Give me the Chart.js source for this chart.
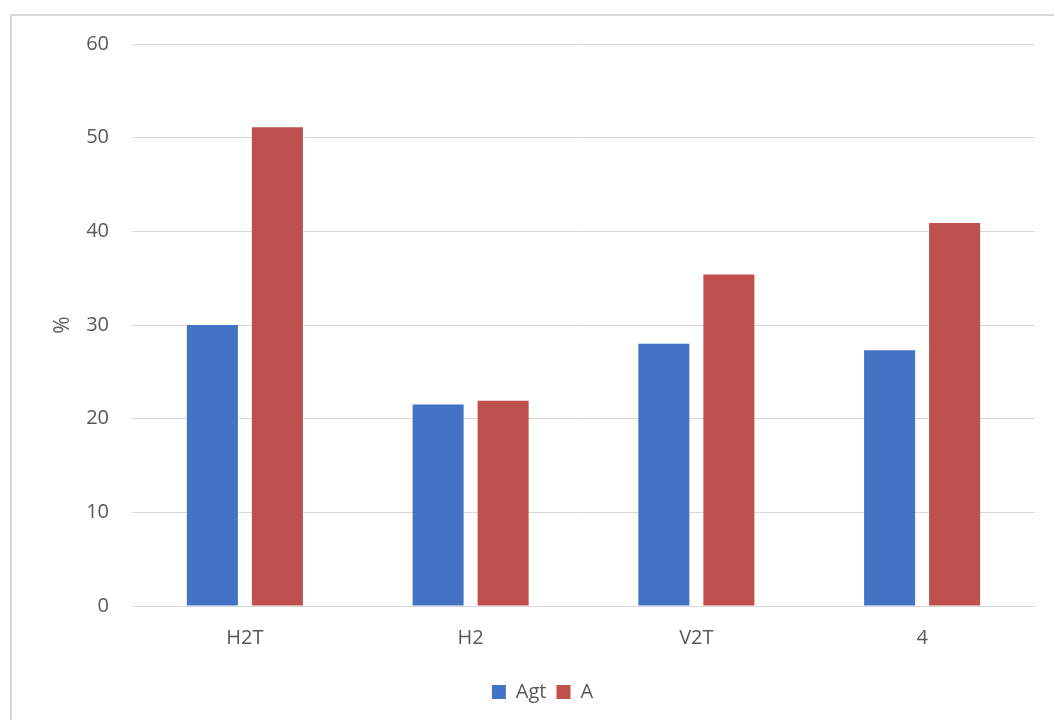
<!DOCTYPE html>
<html>
<head>
<meta charset="utf-8">
<script src="https://cdn.jsdelivr.net/npm/chart.js@4"></script>
<style>
  html, body { margin: 0; padding: 0; background: #fff; overflow: hidden; }
  #wrap { position: relative; width: 1054px; height: 720px; }
</style>
</head>
<body>
<div id="wrap"><canvas id="myChart" width="1054" height="720"></canvas></div>
<script>
const categories = ['H2T', 'H2', 'V2T', '4'];
const agtValues = [30.0, 21.5, 28.0, 27.3];
const aValues = [51.1, 21.9, 35.4, 40.9];
const yTicks = [0, 10, 20, 30, 40, 50, 60];

const textColor = '#595959';
const gridColor = '#d9d9d9';
Chart.defaults.font.family = '"Open Sans", "Liberation Sans", sans-serif';

// light frame around the chart, like the spreadsheet chart box
const frame = {
    id: 'frame',
    beforeDraw(chart) {
        const ctx = chart.ctx;
        ctx.save();
        ctx.fillStyle = '#fff';
        ctx.fillRect(0, 0, chart.width, chart.height);
        ctx.strokeStyle = gridColor;
        ctx.lineWidth = 2;
        ctx.strokeRect(11, 15, 1100, 800);
        ctx.restore();
    }
};

// legend sits a little right of the canvas centre in the original
const legendShift = {
    id: 'legendShift',
    afterLayout(chart) {
        chart.legend.left += 19;
        chart.legend.right += 19;
    }
};

const data = {
    labels: categories,
    datasets: [{
        label: 'Agt',
        data: agtValues,
        backgroundColor: '#4472C4'
    }, {
        label: 'A',
        data: aValues,
        backgroundColor: '#C0504D'
    }]
};

const config = {
    type: 'bar',
    data: data,
    options: {
        responsive: false,
        animation: false,
        layout: {
            padding: { left: 12, right: 19, top: 44, bottom: 8 }
        },
        datasets: {
            bar: {
                categoryPercentage: 0.576,
                barPercentage: 0.785
            }
        },
        scales: {
            x: {
                grid: { display: false, drawTicks: false },
                border: { display: true, color: gridColor, width: 1 },
                ticks: { color: textColor, font: { size: 20 }, padding: 20 },
                afterFit: (s) => { s.height = 66; }
            },
            y: {
                min: 0,
                max: 60,
                afterBuildTicks: (s) => { s.ticks = yTicks.map(v => ({ value: v })); },
                grid: { color: gridColor, lineWidth: 1, drawTicks: false },
                border: { display: false },
                ticks: { color: textColor, font: { size: 20 }, padding: 23 },
                title: {
                    display: true,
                    text: '%',
                    color: textColor,
                    font: { size: 21 },
                    padding: { top: 38, bottom: 0 }
                },
                afterFit: (s) => { s.width = 120; }
            }
        },
        plugins: {
            legend: {
                position: 'bottom',
                labels: {
                    color: textColor,
                    font: { size: 20 },
                    boxWidth: 14,
                    boxHeight: 14,
                    padding: 10
                }
            },
            tooltip: { enabled: false }
        }
    },
    plugins: [frame, legendShift]
};

const chart = new Chart(document.getElementById('myChart'), config);
</script>
</body>
</html>
